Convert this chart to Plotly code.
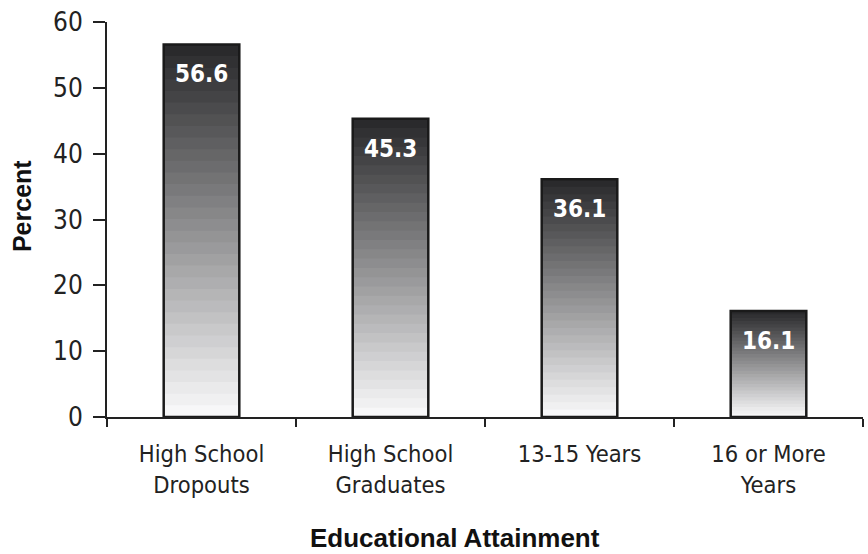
import plotly.graph_objects as go

categories = ["High School<br>Dropouts", "High School<br>Graduates", "13-15 Years", "16 or More<br>Years"]
values = [56.6, 45.3, 36.1, 16.1]
y_ticks = [0, 10, 20, 30, 40, 50, 60]

N_STEPS = 32
BOTTOM = (247, 247, 248)
TOP = (42, 42, 44)

NARROW = "DejaVu Sans Condensed, Liberation Sans Narrow, sans-serif"
BOLD = "Liberation Sans, Arial, sans-serif"

fig = go.Figure()

# stepped vertical gradient: each step starts higher and reaches the bar top,
# so later (darker) steps cover the upper part of earlier ones with no gaps
for i in range(N_STEPS):
    t = i / (N_STEPS - 1)
    c = tuple(round(BOTTOM[k] + (TOP[k] - BOTTOM[k]) * t) for k in range(3))
    fig.add_trace(go.Bar(
        x=categories,
        y=[v * (N_STEPS - i) / N_STEPS for v in values],
        base=[v * i / N_STEPS for v in values],
        marker=dict(color="rgb(%d,%d,%d)" % c, line=dict(width=0)),
        width=0.4,
        hoverinfo="skip",
        showlegend=False,
    ))

# outline
fig.add_trace(go.Bar(
    x=categories,
    y=values,
    marker=dict(color="rgba(0,0,0,0)", line=dict(color="#1a1a1a", width=2.5)),
    width=0.4,
    showlegend=False,
))

for c, v in zip(categories, values):
    fig.add_annotation(
        x=c, y=v, text="<b>%.1f</b>" % v, showarrow=False,
        yanchor="middle", yshift=-30,
        font=dict(family=NARROW, size=24, color="white"),
    )

fig.add_annotation(
    text="<b>Percent</b>", textangle=-90, showarrow=False,
    xref="paper", yref="paper", x=0, y=0.534, xshift=-85,
    xanchor="center", yanchor="middle",
    font=dict(family=BOLD, size=25, color="#111"),
)
fig.add_annotation(
    text="<b>Educational Attainment</b>", showarrow=False,
    xref="paper", yref="paper", x=0.46, y=-0.306,
    xanchor="center", yanchor="middle",
    font=dict(family=BOLD, size=26, color="#111"),
)

fig.update_layout(
    width=868, height=554,
    margin=dict(l=107, r=5, t=22, b=137),
    paper_bgcolor="white", plot_bgcolor="white",
    barmode="overlay",
    xaxis=dict(
        showline=True, linecolor="#222", linewidth=2,
        ticks="outside", tickson="boundaries", ticklen=8, tickwidth=2, tickcolor="#222",
        tickfont=dict(family=NARROW, size=23.5, color="#222"),
        ticklabelstandoff=15,
        showgrid=False,
    ),
    yaxis=dict(
        range=[0, 60], tickvals=y_ticks,
        showline=True, linecolor="#222", linewidth=2,
        ticks="outside", ticklen=12, tickwidth=2, tickcolor="#222",
        tickfont=dict(family=NARROW, size=26, color="#222"),
        ticklabelstandoff=5,
        showgrid=False, zeroline=False,
    ),
)

fig.write_html("out.html")
